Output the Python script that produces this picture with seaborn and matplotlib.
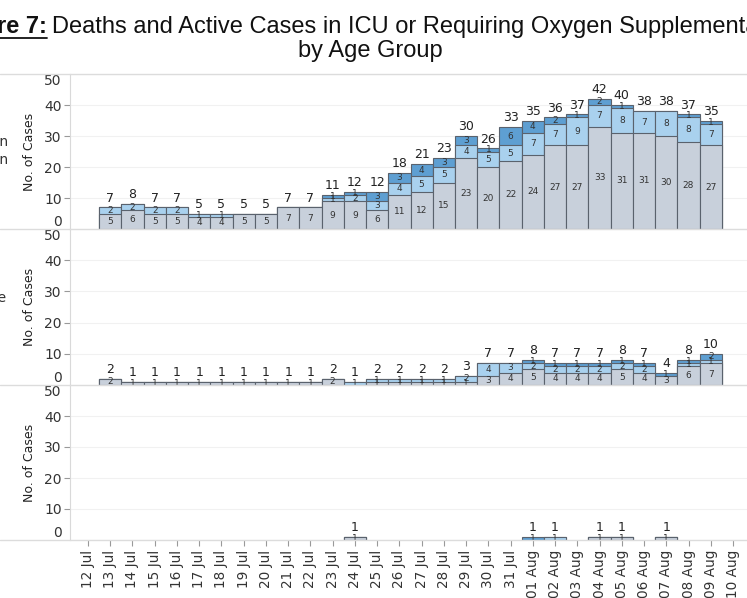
import pandas as pd
import matplotlib
matplotlib.use("Agg")
import matplotlib.pyplot as plt
from matplotlib.lines import Line2D
import seaborn as sns

# ----------------------------
# Data
# ----------------------------
dates = ["12 Jul", "13 Jul", "14 Jul", "15 Jul", "16 Jul", "17 Jul", "18 Jul",
         "19 Jul", "20 Jul", "21 Jul", "22 Jul", "23 Jul", "24 Jul", "25 Jul",
         "26 Jul", "27 Jul", "28 Jul", "29 Jul", "30 Jul", "31 Jul", "01 Aug",
         "02 Aug", "03 Aug", "04 Aug", "05 Aug", "06 Aug", "07 Aug", "08 Aug",
         "09 Aug", "10 Aug"]

# top row: requiring oxygen supplementation
oxygen_grey  = [0, 5, 6, 5, 5, 4, 4, 5, 5, 7, 7, 9, 9, 6, 11, 12, 15, 23, 20, 22,
                24, 27, 27, 33, 31, 31, 30, 28, 27, 0]
oxygen_light = [0, 2, 2, 2, 2, 1, 1, 0, 0, 0, 0, 1, 2, 3, 4, 5, 5, 4, 5, 5,
                7, 7, 9, 7, 8, 7, 8, 8, 7, 0]
oxygen_dark  = [0, 0, 0, 0, 0, 0, 0, 0, 0, 0, 0, 1, 1, 3, 3, 4, 3, 3, 1, 6,
                4, 2, 1, 2, 1, 0, 0, 1, 1, 0]

# middle row: in ICU
icu_grey  = [0, 2, 1, 1, 1, 1, 1, 1, 1, 1, 1, 2, 0, 1, 1, 1, 1, 1, 3, 4,
             5, 4, 4, 4, 5, 4, 3, 6, 7, 0]
icu_light = [0, 0, 0, 0, 0, 0, 0, 0, 0, 0, 0, 0, 1, 1, 1, 1, 1, 2, 4, 3,
             2, 2, 2, 2, 2, 2, 0, 1, 1, 0]
icu_dark  = [0, 0, 0, 0, 0, 0, 0, 0, 0, 0, 0, 0, 0, 0, 0, 0, 0, 0, 0, 0,
             1, 1, 1, 1, 1, 1, 1, 1, 2, 0]

# bottom row: deaths
death_grey  = [0, 0, 0, 0, 0, 0, 0, 0, 0, 0, 0, 0, 1, 0, 0, 0, 0, 0, 0, 0,
               0, 0, 0, 1, 1, 0, 1, 0, 0, 0]
death_light = [0, 0, 0, 0, 0, 0, 0, 0, 0, 0, 0, 0, 0, 0, 0, 0, 0, 0, 0, 0,
               0, 1, 0, 0, 0, 0, 0, 0, 0, 0]
death_dark  = [0, 0, 0, 0, 0, 0, 0, 0, 0, 0, 0, 0, 0, 0, 0, 0, 0, 0, 0, 0,
               1, 0, 0, 0, 0, 0, 0, 0, 0, 0]

colours = ["#c8d0db", "#a9d1ee", "#5e9fd2"]
edge = "#5a626d"

sns.set_style("white")
plt.rcParams["font.family"] = ["DejaVu Sans"]

W, H = 747, 598
fig = plt.figure(figsize=(W / 100, H / 100), dpi=100)

def box(top, bottom, left=70, right=747):
    return [left / W, 1 - bottom / H, (right - left) / W, (bottom - top) / H]

panels = [
    ((74, 229), oxygen_grey, oxygen_light, oxygen_dark),
    ((229, 385), icu_grey, icu_light, icu_dark),
    ((385, 540), death_grey, death_light, death_dark),
]

for k, ((top, bottom), grey, light, dark) in enumerate(panels):
    ax = fig.add_axes(box(top, bottom))
    df = pd.DataFrame({"date": dates, "grey": grey, "light": light, "dark": dark})
    df["lvl1"] = df["grey"]
    df["lvl2"] = df["lvl1"] + df["light"]
    df["lvl3"] = df["lvl2"] + df["dark"]

    # overlay cumulative bars, tallest first
    for col, colour in [("lvl3", colours[2]), ("lvl2", colours[1]), ("lvl1", colours[0])]:
        d = df.assign(h=df[col].where(df[col] > 0))
        sns.barplot(data=d, x="date", y="h", order=dates, color=colour,
                    saturation=1, width=1.0, edgecolor=edge, linewidth=0.8,
                    errorbar=None, ax=ax)

    # segment labels and totals
    for i, row in df.iterrows():
        base = 0
        for seg in ["grey", "light", "dark"]:
            v = row[seg]
            if v > 0:
                ax.text(i, base + v / 2, str(v), ha="center", va="center",
                        fontsize=6.5, color="#333333")
            base += v
        if row["lvl3"] > 0:
            ax.text(i, row["lvl3"] + 0.9, str(row["lvl3"]), ha="center",
                    va="bottom", fontsize=9, color="#222222")

    ax.set_xlim(-0.81, 29.63)
    ax.set_ylim(0, 50)
    ax.set_yticks([0, 10, 20, 30, 40, 50])
    ax.set_yticklabels(["0", "10", "20", "30", "40", "50"])
    ax.tick_params(axis="y", length=4, width=0.8, color="#999999", pad=2,
                   labelsize=10, labelcolor="#333333", left=True)
    ylabels = ax.get_yticklabels()
    ylabels[0].set_va("bottom")
    ylabels[-1].set_va("top")
    yt = ax.yaxis.get_major_ticks()
    yt[0].tick1line.set_visible(False)
    yt[-1].tick1line.set_visible(False)
    ax.yaxis.grid(True, color="#f1f1f1", linewidth=0.8)
    ax.set_axisbelow(True)

    ax.set_xlabel("")
    ax.set_ylabel("No. of Cases", fontsize=9, color="#222222")
    ax.yaxis.set_label_coords(-0.05, 0.5)

    for s in ["top", "right", "bottom"]:
        ax.spines[s].set_visible(False)
    ax.spines["left"].set_color("#d9d9d9")
    ax.patch.set_alpha(0)

    if k < 2:
        ax.tick_params(axis="x", bottom=False, labelbottom=False)
    else:
        ax.tick_params(axis="x", bottom=True, length=4, width=0.8,
                       color="#999999", labelsize=9.8, labelcolor="#333333",
                       rotation=90, pad=3)

# full-width separators
for y in [74, 229, 385, 540]:
    fig.add_artist(Line2D([0, 1], [1 - y / H, 1 - y / H], color="#dcdcdc",
                          linewidth=1, transform=fig.transFigure))

# row headers (cut off at the left edge as in the original)
fig.text(8 / W, 1 - 151 / H, "Requiring Oxygen\nSupplementation", ha="right",
         va="center", multialignment="right", fontsize=10, color="#333333",
         linespacing=1.3)
fig.text(6 / W, 1 - 298 / H, "In Intensive Care", ha="right", va="center",
         fontsize=10, color="#333333")

# title
title_font = dict(family=["Liberation Sans", "DejaVu Sans"], fontsize=17, color="#111111")
fig.text(52 / W, 1 - 27 / H,
         "Deaths and Active Cases in ICU or Requiring Oxygen Supplementation",
         ha="left", va="center", **title_font)
t_bold = fig.text(47 / W, 1 - 27 / H, "Figure 7:", ha="right", va="center",
                  fontweight="bold", **title_font)
fig.text(370 / W, 1 - 51 / H, "by Age Group", ha="center", va="center", **title_font)

fig.canvas.draw()
bb = t_bold.get_window_extent()
inv = fig.transFigure.inverted()
(x0, y0), (x1, _) = inv.transform([(bb.x0, bb.y0 + 0.5), (bb.x1, bb.y0)])
fig.add_artist(Line2D([x0, x1], [y0, y0], color="#111111", linewidth=1.3,
                      transform=fig.transFigure))

fig.savefig("out.png", dpi=100)
